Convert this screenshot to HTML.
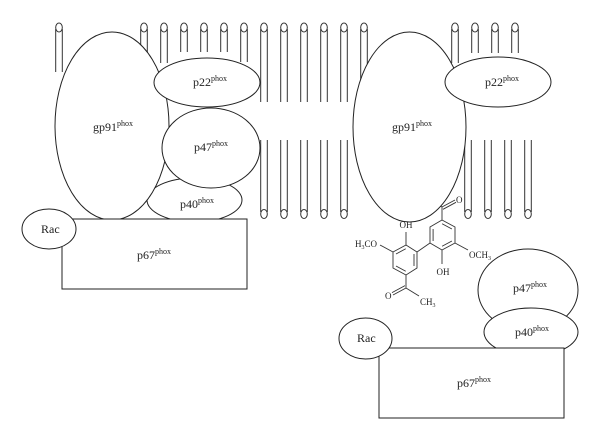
<!DOCTYPE html>
<html><head><meta charset="utf-8"><style>
html,body{margin:0;padding:0;background:#fff;}
svg{display:block;}
text{font-family:"Liberation Serif",serif;fill:#222;}
</style></head><body>
<svg width="600" height="442" viewBox="0 0 600 442" xmlns="http://www.w3.org/2000/svg">
<rect width="600" height="442" fill="#fff"/>
<g stroke="#333" stroke-width="1" fill="none">
<!-- top leaflet lipids -->
<ellipse cx="59" cy="27.5" rx="3.3" ry="4.5"/><path d="M55.7 29V72M62.3 29V72"/>
<ellipse cx="144" cy="27.5" rx="3.3" ry="4.5"/><path d="M140.7 29V53M147.3 29V53"/>
<ellipse cx="164" cy="27.5" rx="3.3" ry="4.5"/><path d="M160.7 29V63M167.3 29V63"/>
<ellipse cx="184" cy="27.5" rx="3.3" ry="4.5"/><path d="M180.7 29V52M187.3 29V52"/>
<ellipse cx="204" cy="27.5" rx="3.3" ry="4.5"/><path d="M200.7 29V52M207.3 29V52"/>
<ellipse cx="224" cy="27.5" rx="3.3" ry="4.5"/><path d="M220.7 29V52M227.3 29V52"/>
<ellipse cx="244" cy="27.5" rx="3.3" ry="4.5"/><path d="M240.7 29V62M247.3 29V62"/>
<ellipse cx="264" cy="27.5" rx="3.3" ry="4.5"/><path d="M260.7 29V102M267.3 29V102"/>
<ellipse cx="284" cy="27.5" rx="3.3" ry="4.5"/><path d="M280.7 29V102M287.3 29V102"/>
<ellipse cx="304" cy="27.5" rx="3.3" ry="4.5"/><path d="M300.7 29V102M307.3 29V102"/>
<ellipse cx="324" cy="27.5" rx="3.3" ry="4.5"/><path d="M320.7 29V102M327.3 29V102"/>
<ellipse cx="344" cy="27.5" rx="3.3" ry="4.5"/><path d="M340.7 29V102M347.3 29V102"/>
<ellipse cx="364" cy="27.5" rx="3.3" ry="4.5"/><path d="M360.7 29V102M367.3 29V102"/>
<ellipse cx="455" cy="27.5" rx="3.3" ry="4.5"/><path d="M451.7 29V63M458.3 29V63"/>
<ellipse cx="475" cy="27.5" rx="3.3" ry="4.5"/><path d="M471.7 29V53M478.3 29V53"/>
<ellipse cx="495" cy="27.5" rx="3.3" ry="4.5"/><path d="M491.7 29V53M498.3 29V53"/>
<ellipse cx="515" cy="27.5" rx="3.3" ry="4.5"/><path d="M511.7 29V53M518.3 29V53"/>
<!-- bottom leaflet lipids -->
<ellipse cx="264" cy="214" rx="3.3" ry="4.5"/><path d="M260.7 140V212M267.3 140V212"/>
<ellipse cx="284" cy="214" rx="3.3" ry="4.5"/><path d="M280.7 140V212M287.3 140V212"/>
<ellipse cx="304" cy="214" rx="3.3" ry="4.5"/><path d="M300.7 140V212M307.3 140V212"/>
<ellipse cx="324" cy="214" rx="3.3" ry="4.5"/><path d="M320.7 140V212M327.3 140V212"/>
<ellipse cx="344" cy="214" rx="3.3" ry="4.5"/><path d="M340.7 140V212M347.3 140V212"/>
<ellipse cx="468" cy="214" rx="3.3" ry="4.5"/><path d="M464.7 140V212M471.3 140V212"/>
<ellipse cx="488" cy="214" rx="3.3" ry="4.5"/><path d="M484.7 140V212M491.3 140V212"/>
<ellipse cx="508" cy="214" rx="3.3" ry="4.5"/><path d="M504.7 140V212M511.3 140V212"/>
<ellipse cx="528" cy="214" rx="3.3" ry="4.5"/><path d="M524.7 140V212M531.3 140V212"/>
</g>

<!-- molecule -->
<g stroke="#333" stroke-width="0.9" fill="none">
<polygon points="406,245 417,252 417,268 406,275 393,268 393,252"/>
<path d="M396 254L405.75 248.75M414 254L414 266M405.75 271.25L396 266"/>
<polygon points="430,243 430,227 442,220 455,227 455,243 442,250"/>
<path d="M433.1 241L433.1 229M442.1 223.75L451.9 229M451.9 241L442.1 246.25"/>
<path d="M406 245V232M393 252L380 245M406 275V288L393 295M405 285.6L392 292.6M406 288L419 296"/>
<path d="M417 252L430 243M442 220V207L455 200M443 209.3L456 202.3M442 207L430 200M442 250V264M455 243L468 250"/>
</g>
<g font-size="9">
<text x="406" y="228" text-anchor="middle">OH</text>
<text x="355" y="247">H<tspan font-size="6" dy="2">3</tspan><tspan dy="-2">CO</tspan></text>
<text x="385" y="299">O</text>
<text x="420" y="305">CH<tspan font-size="6" dy="2">3</tspan></text>
<text x="456" y="203">O</text>
<text x="469" y="258">OCH<tspan font-size="6" dy="2">3</tspan></text>
<text x="443" y="275" text-anchor="middle">OH</text>
</g>

<!-- left complex -->
<g stroke="#222" stroke-width="1" fill="#fff">
<ellipse cx="194.5" cy="200" rx="47.5" ry="22"/>
<ellipse cx="112" cy="126" rx="57" ry="94"/>
<ellipse cx="211" cy="148" rx="49" ry="40"/>
<ellipse cx="207" cy="82.5" rx="53" ry="24.5"/>
<rect x="62" y="219" width="185" height="70"/>
<ellipse cx="49" cy="229" rx="27" ry="20"/>
</g>
<!-- right complex -->
<g stroke="#222" stroke-width="1" fill="#fff">
<ellipse cx="409.5" cy="127" rx="56.5" ry="95"/>
<ellipse cx="498" cy="82" rx="53" ry="25"/>
<ellipse cx="528" cy="290" rx="50" ry="41"/>
<ellipse cx="531" cy="332" rx="47" ry="24"/>
<rect x="379" y="348" width="185" height="70"/>
<ellipse cx="365.5" cy="338.5" rx="26.5" ry="20.5"/>
</g>

<g font-size="12">
<text x="93" y="131">gp91<tspan font-size="8" dy="-5">phox</tspan></text>
<text x="193" y="86">p22<tspan font-size="8" dy="-5">phox</tspan></text>
<text x="194" y="151">p47<tspan font-size="8" dy="-5">phox</tspan></text>
<text x="180" y="208">p40<tspan font-size="8" dy="-5">phox</tspan></text>
<text x="137" y="259">p67<tspan font-size="8" dy="-5">phox</tspan></text>
<text x="41" y="233">Rac</text>
<text x="392" y="131">gp91<tspan font-size="8" dy="-5">phox</tspan></text>
<text x="485" y="86">p22<tspan font-size="8" dy="-5">phox</tspan></text>
<text x="513" y="292">p47<tspan font-size="8" dy="-5">phox</tspan></text>
<text x="515" y="336">p40<tspan font-size="8" dy="-5">phox</tspan></text>
<text x="457" y="387">p67<tspan font-size="8" dy="-5">phox</tspan></text>
<text x="357" y="342">Rac</text>
</g>
</svg>
</body></html>
